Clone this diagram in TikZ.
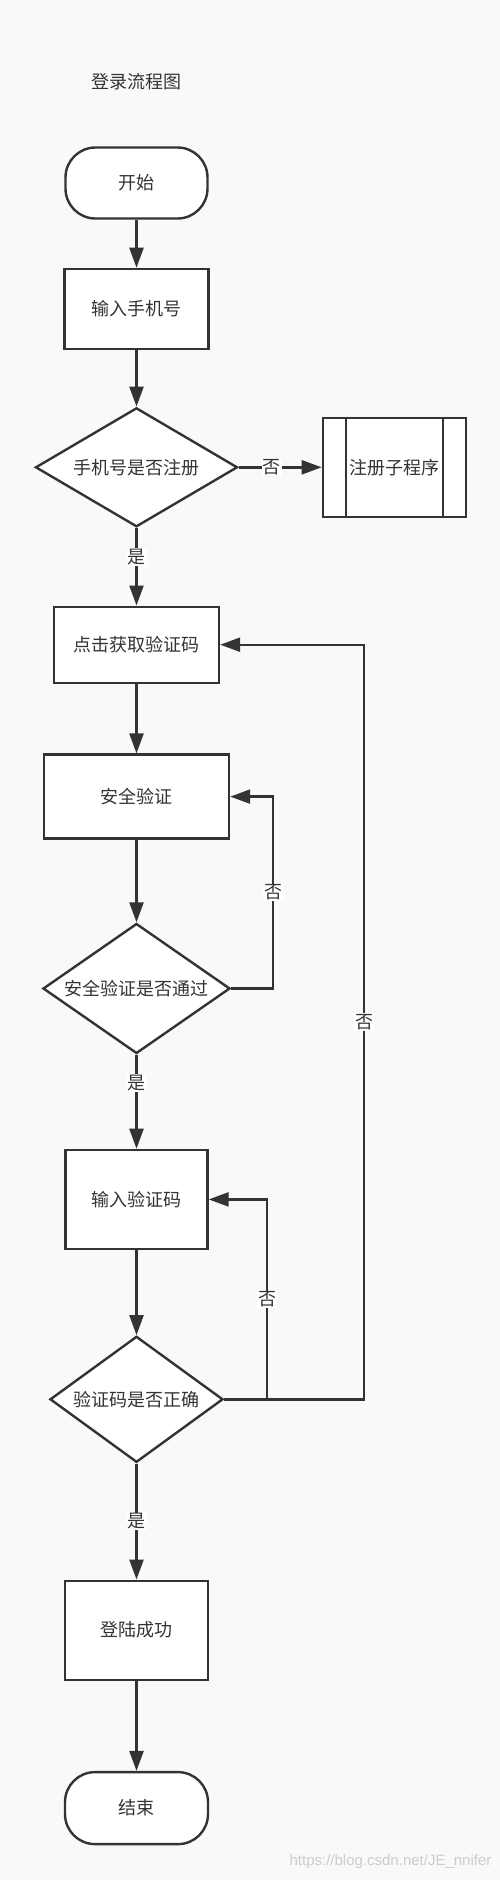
\documentclass[tikz,border=0pt]{standalone}
\usepackage{fontspec}
\setmainfont{Noto Sans CJK SC}
\newfontfamily\urlfont{Liberation Sans}
\usetikzlibrary{positioning,shapes.geometric,arrows.meta}
\definecolor{ink}{HTML}{333333}
\definecolor{paper}{HTML}{F9F9F9}
\tikzset{>={Triangle[length=20pt,width=14pt]}}

\begin{document}
\begin{tikzpicture}[x=1pt,y=-1pt,
    every node/.style={font=\fontsize{18}{20}\selectfont, text=ink},
    box/.style={draw=ink, line width=2.4pt, fill=white, inner sep=0pt},
    terminal/.style={box, rounded corners=30pt, minimum width=142pt, minimum height=71pt},
    process/.style={box, minimum width=143pt, minimum height=99pt},
    decision/.style={box, diamond},
    flow/.style={draw=ink, line width=2.4pt, ->},
    lab/.style={fill=white, inner sep=1pt}]

  \useasboundingbox[fill=paper] (0,0) rectangle (500,1880) ;

  % Nodes
  \node (title) at (136,82) {登录流程图} ;
  \node[terminal] (start) at (136.5,183) {开始} ;
  \node[process, minimum width=144pt, minimum height=80pt, below=48pt of start] (phone) {输入手机号} ;
  \node[decision, minimum width=202pt, minimum height=119pt, aspect=1.7, below=56.5pt of phone] (reg) {手机号是否注册} ;
  \node[process, minimum width=143pt, minimum height=99pt, right=83pt of reg] (sub) {注册子程序} ;
  \node[process, minimum width=165pt, minimum height=76pt, below=77.5pt of reg] (getcode) {点击获取验证码} ;
  \node[process, minimum width=185pt, minimum height=84pt, below=69.5pt of getcode] (safe) {安全验证} ;
  \node[decision, minimum width=187pt, minimum height=130pt, aspect=1.44, below=82.5pt of safe] (safeok) {安全验证是否通过} ;
  \node[process, minimum width=142pt, below=94pt of safeok] (code) {输入验证码} ;
  \node[decision, minimum width=173pt, minimum height=126pt, aspect=1.37, below=85pt of code] (codeok) {验证码是否正确} ;
  \node[process, below=116pt of codeok] (success) {登陆成功} ;
  \node[terminal, minimum width=143pt, minimum height=72pt, below=90pt of success] (end) {结束} ;

  \draw[ink, line width=2.4pt] ([xshift=24pt]sub.north west) -- ([xshift=24pt]sub.south west) ;
  \draw[ink, line width=2.4pt] ([xshift=-24pt]sub.north east) -- ([xshift=-24pt]sub.south east) ;

  \node[text=gray!40, font=\urlfont\fontsize{15}{17}\selectfont] (mark) at (390.5,1862) {https://blog.csdn.net/JE\_nnifer} ;

  % Edges
  \draw[flow] (start) -- (phone) ;
  \draw[flow] (phone) -- (reg) ;
  \draw[flow] (reg.east) -- node[lab, pos=0.4] {否} (sub.west) ;
  \draw[flow] (reg) -- node[lab, pos=0.37] {是} (getcode) ;
  \draw[flow] (getcode) -- (safe) ;
  \draw[flow] (safe) -- (safeok) ;
  \draw[flow] (safeok.east) -- ++(42,0) |- node[lab, pos=0.25] {否} (safe.east) ;
  \draw[flow] (safeok) -- node[lab, pos=0.3] {是} (code) ;
  \draw[flow] (code) -- (codeok) ;
  \draw[flow] (codeok.east) -- ++(43,0) |- node[lab, pos=0.25] {否} (code.east) ;
  \draw[flow] (codeok.east) -- ++(140,0) |- node[lab, pos=0.25] {否} (getcode.east) ;
  \draw[flow] (codeok) -- node[lab] {是} (success) ;
  \draw[flow] (success) -- (end) ;

\end{tikzpicture}
\end{document}
